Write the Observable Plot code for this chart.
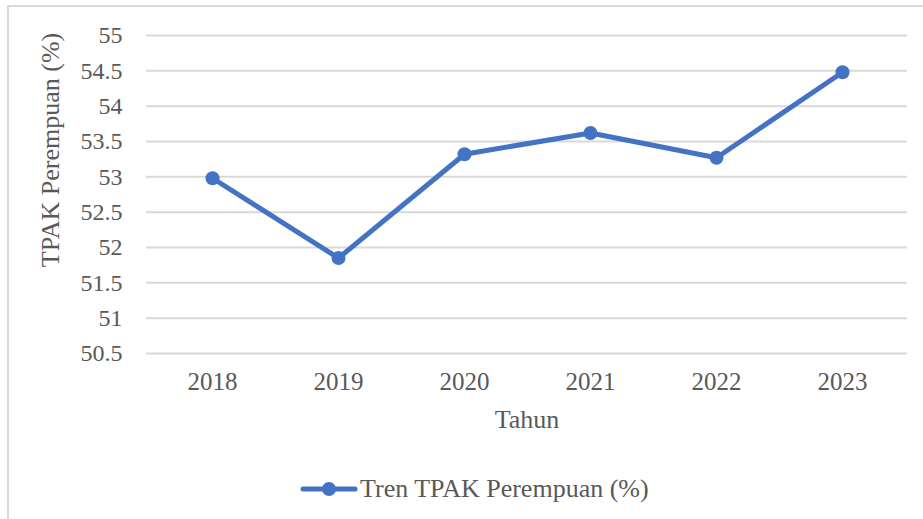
<!DOCTYPE html>
<html>
<head>
<meta charset="utf-8">
<script src="https://cdn.jsdelivr.net/npm/d3@7"></script>
<script src="https://cdn.jsdelivr.net/npm/@observablehq/plot@0.6"></script>
<style>
  html, body { margin: 0; padding: 0; background: #fff; }
  #wrap { position: relative; width: 923px; height: 519px; overflow: hidden; font-family: 'Liberation Serif', 'Times New Roman', serif; color: #595959; }
  #frame { position: absolute; left: 7px; top: 5px; width: 940px; height: 560px; border: 2px solid #d9d9d9; box-sizing: border-box; }
  #plot { position: absolute; left: 0; top: 0; }
  #plot svg text { font-family: 'Liberation Serif', 'Times New Roman', serif; }
  #legend { position: absolute; left: 300px; top: 474px; display: flex; align-items: center; font-size: 26px; color: #595959; }
  #ytitle { position: absolute; left: 51px; top: 150px; transform: translate(-50%, -50%) rotate(-90deg); white-space: nowrap; font-size: 26px; }
</style>
</head>
<body>
<div id="wrap">
  <div id="frame"></div>
  <div id="plot"></div>
  <div id="ytitle">TPAK Perempuan (%)</div>
  <div id="legend">
    <svg width="58" height="20"><line x1="3" y1="10" x2="55" y2="10" stroke="#4472C4" stroke-width="5" stroke-linecap="round"/><circle cx="29" cy="10" r="7" fill="#4472C4"/></svg>
    <span style="margin-left:2px">Tren TPAK Perempuan (%)</span>
  </div>
</div>
<script>
const years = ["2018", "2019", "2020", "2021", "2022", "2023"];
const values = [52.98, 51.85, 53.32, 53.62, 53.27, 54.48];
const yTicks = [50.5, 51, 51.5, 52, 52.5, 53, 53.5, 54, 54.5, 55];

const data = years.map((y, i) => ({ year: y, value: values[i] }));
const serif = "'Liberation Serif', 'Times New Roman', serif";

const chart = Plot.plot({
  width: 923,
  height: 445,
  marginLeft: 146,
  marginRight: 16,
  marginTop: 35,
  marginBottom: 92,
  style: { fontFamily: serif, fontSize: "23px", color: "#595959", background: "transparent", overflow: "visible" },
  x: { type: "point", domain: years, padding: 0.5, label: null },
  y: { domain: [50.5, 55], label: null },
  marks: [
    Plot.gridY(yTicks, { stroke: "#d9d9d9", strokeOpacity: 1, strokeWidth: 2 }),
    Plot.axisY(yTicks, { tickSize: 0, tickPadding: 24, tickFormat: d => String(d), fontSize: 24, fontFamily: serif, fill: "#595959" }),
    Plot.axisX(years, { tickSize: 0, tickPadding: 19, fontSize: 25, fontFamily: serif, fill: "#595959", label: null }),
    Plot.text(["Tahun"], { frameAnchor: "bottom", dy: 74, fontSize: 26, fontFamily: serif, fill: "#595959" }),
    Plot.line(data, { x: "year", y: "value", stroke: "#4472C4", strokeWidth: 5, strokeLinejoin: "round" }),
    Plot.dot(data, { x: "year", y: "value", r: 7, fill: "#4472C4" })
  ]
});
document.getElementById("plot").appendChild(chart);
</script>
</body>
</html>
